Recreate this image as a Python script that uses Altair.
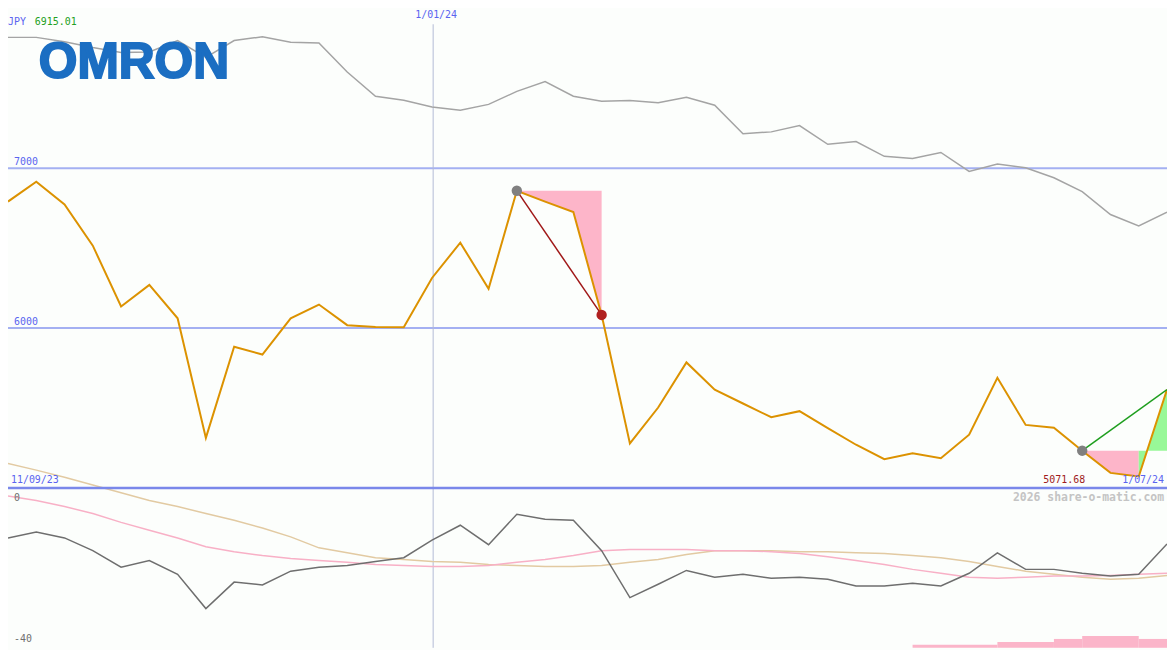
import altair as alt
import pandas as pd

# ---------------- data ----------------
idx = list(range(42))
price = [6791, 6915.01, 6773, 6515, 6135, 6270, 6061, 5313, 5883, 5834, 6061, 6147,
         6018, 6007, 6005, 6313, 6534, 6245, 6859, 6791, 6726, 6082, 5278, 5503,
         5785, 5615, 5528, 5442, 5480, 5374, 5270, 5180, 5217, 5186, 5333, 5689,
         5394, 5376, 5233, 5094, 5071.68, 5615]
grey = [7818, 7818, 7791, 7755, 7724, 7727, 7798, 7693, 7798, 7822, 7787, 7783,
        7601, 7450, 7425, 7383, 7362, 7399, 7480, 7542, 7450, 7419, 7423, 7409,
        7444, 7394, 7215, 7227, 7266, 7149, 7166, 7074, 7061, 7098, 6980, 7026,
        7002, 6940, 6853, 6710, 6638, 6724]
ind_dark = [-10.0, -8.3, -10.0, -13.6, -18.3, -16.4, -20.3, -30.0, -22.5, -23.3, -19.4, -18.3,
            -17.8, -16.7, -15.6, -10.6, -6.4, -11.9, -3.3, -4.7, -5.0, -13.6, -26.9, -23.1,
            -19.2, -21.1, -20.3, -21.4, -21.1, -21.7, -23.6, -23.6, -22.8, -23.6, -20.0, -14.2,
            -18.9, -18.9, -20.0, -20.8, -20.3, -11.7]
ind_pink = [1.9, 0.6, -1.1, -3.1, -5.6, -7.8, -10.0, -12.5, -13.9, -15.0, -15.8, -16.4,
            -16.9, -17.5, -17.8, -18.1, -18.1, -17.8, -16.9, -16.1, -15.0, -13.6, -13.3, -13.3,
            -13.3, -13.6, -13.6, -13.9, -14.4, -15.3, -16.4, -17.5, -18.9, -20.0, -21.1, -21.4,
            -21.1, -20.8, -20.8, -20.6, -20.3, -20.0]
ind_tan = [11.1, 9.2, 7.2, 5.0, 2.8, 0.6, -1.1, -3.1, -5.0, -7.2, -9.7, -12.8,
           -14.2, -15.6, -16.1, -16.7, -16.9, -17.5, -17.8, -18.1, -18.1, -17.8, -16.9, -16.1,
           -14.7, -13.6, -13.6, -13.6, -13.9, -13.9, -14.2, -14.4, -15.0, -15.6, -16.7, -18.1,
           -19.4, -20.3, -21.1, -21.7, -21.4, -20.6]

grid_levels = [7000, 6000]
base_level = [5000]
vline_idx = [15.04]
vline_label = ["1/01/24"]
date_start = "11/09/23"
date_end = "1/07/24"
min_label = "5071.68"
max_label = "6915.01"

# signal 1: peak -> drop
sig1_start, sig1_end = 18, 21
# signal 2: low start -> rise
sig2_start, sig2_split, sig2_end = 38, 40, 41

# bottom bars
bar_x1 = [32, 35, 37, 38, 40]
bar_x2 = [35, 37, 38, 40, 41]
bar_h = [1, 2, 3, 4, 3]

# ---------------- styling ----------------
W, H = 1167, 642
BLUE_TXT = "#5a64f0"
FONT = "DejaVu Sans Mono"

xs = alt.Scale(domain=[0, 41], nice=False, zero=False)
ps = alt.Scale(domain=[4000, 7988], nice=False, zero=False)
iscale = alt.Scale(domain=[-41.1, 139.4], nice=False, zero=False)
bscale = alt.Scale(domain=[0, 216], nice=False, zero=False)


def X(f="idx"):
    return alt.X(f"{f}:Q", scale=xs, axis=None)


def Y(f, s=ps):
    return alt.Y(f"{f}:Q", scale=s, axis=None)


df = pd.DataFrame({"idx": idx, "price": price, "grey": grey,
                   "dark": ind_dark, "pink": ind_pink, "tan": ind_tan})

# areas
pk = df[(df.idx >= sig1_start) & (df.idx <= sig1_end)].copy()
pk["base"] = price[sig1_start]
a1 = df[(df.idx >= sig2_start) & (df.idx <= sig2_split)].copy()
a1["base"] = price[sig2_start]
a2 = df[(df.idx >= sig2_split) & (df.idx <= sig2_end)].copy()
a2["base"] = price[sig2_start]

area_pk = alt.Chart(pk).mark_area(color="#fdb5c9", opacity=1, interpolate="linear").encode(
    x=X(), y=Y("price"), y2=alt.Y2("base:Q"))
area_a1 = alt.Chart(a1).mark_area(color="#fdb5c9", opacity=1, interpolate="linear").encode(
    x=X(), y=Y("price"), y2=alt.Y2("base:Q"))
area_a2 = alt.Chart(a2).mark_area(color="#98f898", opacity=1, interpolate="linear").encode(
    x=X(), y=Y("price"), y2=alt.Y2("base:Q"))

grid = alt.Chart(pd.DataFrame({"lv": grid_levels})).mark_rule(color="#a4b0f2", strokeWidth=2).encode(
    y=Y("lv"))
grid_txt = alt.Chart(pd.DataFrame({"lv": grid_levels, "t": [str(v) for v in grid_levels]})).mark_text(
    align="left", baseline="bottom", dx=6, dy=-1, font=FONT, fontSize=10, color=BLUE_TXT).encode(
    x=alt.value(0), y=Y("lv"), text="t:N")

vdf = pd.DataFrame({"vx": vline_idx, "top": [7900], "bot": [4000], "t": vline_label})
vline = alt.Chart(vdf).mark_rule(color="#b2bad6", strokeWidth=1).encode(
    x=X("vx"), y=Y("top"), y2=alt.Y2("bot:Q"))
vtxt = alt.Chart(vdf).mark_text(baseline="top", dx=3, font=FONT, fontSize=10, color=BLUE_TXT).encode(
    x=X("vx"), y=alt.value(0), text="t:N")

grey_line = alt.Chart(df).mark_line(color="#a4a4a4", strokeWidth=1.5).encode(x=X(), y=Y("grey"))

ind_tan_l = alt.Chart(df).mark_line(color="#e2caa2", strokeWidth=1.5).encode(x=X(), y=Y("tan", iscale))
ind_pink_l = alt.Chart(df).mark_line(color="#f8b0c6", strokeWidth=1.5).encode(x=X(), y=Y("pink", iscale))
ind_dark_l = alt.Chart(df).mark_line(color="#6e6e6e", strokeWidth=1.5).encode(x=X(), y=Y("dark", iscale))

ind_txt = alt.Chart(pd.DataFrame({"v": [0, -40], "t": ["0", "-40"]})).mark_text(
    align="left", baseline="bottom", dx=6, font=FONT, fontSize=10, color="#707070").encode(
    x=alt.value(0), y=Y("v", iscale), text="t:N")

bars = alt.Chart(pd.DataFrame({"x1": bar_x1, "x2": bar_x2, "h": bar_h, "z": [0] * 5})).mark_rect(
    color="#fbb5c9").encode(x=X("x1"), x2=alt.X2("x2:Q"), y=Y("h", bscale), y2=alt.Y2("z:Q"))

base_rule = alt.Chart(pd.DataFrame({"lv": base_level})).mark_rule(color="#7a88ea", strokeWidth=2.5).encode(
    y=Y("lv"))

price_line = alt.Chart(df).mark_line(color="#dc9200", strokeWidth=2).encode(x=X(), y=Y("price"))

seg1 = alt.Chart(df[df.idx.isin([sig1_start, sig1_end])]).mark_line(color="#a01818", strokeWidth=1.5).encode(
    x=X(), y=Y("price"))
seg2 = alt.Chart(df[df.idx.isin([sig2_start, sig2_end])]).mark_line(color="#1e9e1e", strokeWidth=1.5).encode(
    x=X(), y=Y("price"))

mk = pd.DataFrame({"idx": [sig1_start, sig1_end, sig2_start],
                   "price": [price[sig1_start], price[sig1_end], price[sig2_start]],
                   "c": ["#808080", "#b02020", "#808080"]})
markers = alt.Chart(mk).mark_circle(size=110, opacity=1).encode(
    x=X(), y=Y("price"), color=alt.Color("c:N", scale=None))

date_df = pd.DataFrame({"x": [0, 41], "y": [5000, 5000], "t": [date_start, date_end],
                        "al": ["l", "r"]})
d_start = alt.Chart(date_df[date_df.al == "l"]).mark_text(
    align="left", baseline="bottom", dx=3, dy=-3, font=FONT, fontSize=10, color=BLUE_TXT).encode(
    x=X("x"), y=Y("y"), text="t:N")
d_end = alt.Chart(date_df[date_df.al == "r"]).mark_text(
    align="right", baseline="bottom", dx=-3, dy=-3, font=FONT, fontSize=10, color=BLUE_TXT).encode(
    x=X("x"), y=Y("y"), text="t:N")
min_txt = alt.Chart(pd.DataFrame({"x": [sig2_start], "y": [5000], "t": [min_label]})).mark_text(
    align="right", baseline="bottom", dx=3, dy=-3, font=FONT, fontSize=10, color="#a01c1c").encode(
    x=X("x"), y=Y("y"), text="t:N")

wm = alt.Chart(pd.DataFrame({"x": [41], "y": [4939], "t": ["2026 share-o-matic.com"]})).mark_text(
    align="right", baseline="middle", dx=-3, font=FONT, fontSize=11.5, fontWeight="bold",
    color="#c4c4c4").encode(x=X("x"), y=Y("y"), text="t:N")

jpy = alt.Chart(pd.DataFrame({"t": ["JPY"]})).mark_text(
    align="left", baseline="middle", font=FONT, fontSize=10, color=BLUE_TXT).encode(
    x=alt.value(0), y=alt.value(12), text="t:N")
mx = alt.Chart(pd.DataFrame({"t": [max_label]})).mark_text(
    align="left", baseline="middle", font=FONT, fontSize=10, color="#22a022").encode(
    x=alt.value(27), y=alt.value(12), text="t:N")

logo = alt.Chart(pd.DataFrame({"t": ["OMRON"]})).mark_text(
    align="left", baseline="alphabetic", font="Liberation Sans", fontSize=50, fontWeight="bold",
    color="#1b6ec2", stroke="#1b6ec2", strokeWidth=2).encode(
    x=alt.value(31), y=alt.value(68), text="t:N")

chart = alt.layer(
    grid, vline, area_pk, area_a1, area_a2, grey_line,
    ind_tan_l, ind_pink_l, ind_dark_l, bars, base_rule,
    price_line, seg1, seg2, markers,
    grid_txt, vtxt, ind_txt, d_start, d_end, min_txt, wm, jpy, mx, logo
).resolve_scale(y="independent").properties(
    width=W, height=H, padding=0, background="#fcfefc",
    autosize=alt.AutoSizeParams(type="none")
).configure_view(stroke=None)

chart.save("out.html", embed_options={"renderer": "svg", "actions": False})
